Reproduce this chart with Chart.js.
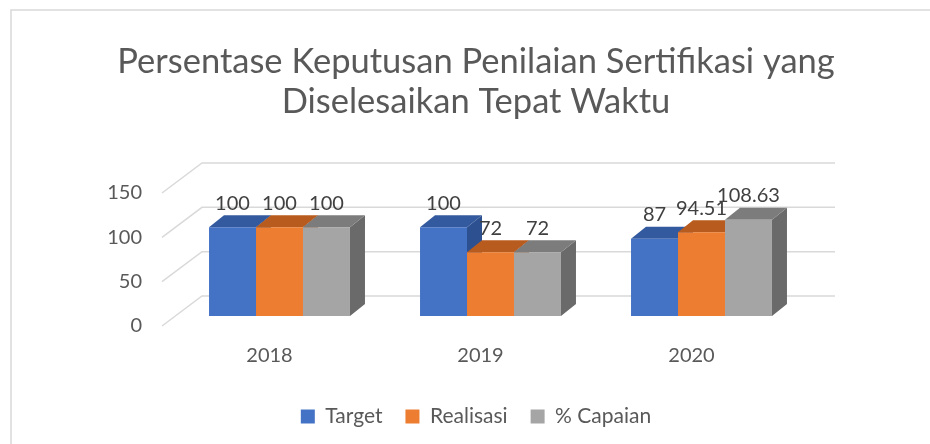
<!DOCTYPE html>
<html>
<head>
<meta charset="utf-8">
<script src="https://cdn.jsdelivr.net/npm/chart.js@4/dist/chart.umd.min.js"></script>
<style>
  html, body { margin: 0; padding: 0; background: #fff; }
  #wrap { position: relative; width: 930px; height: 444px; }
</style>
</head>
<body>
<div id="wrap"><canvas id="chart" width="930" height="444"></canvas></div>
<script>
const years = ['2018', '2019', '2020'];
const target = [100, 100, 87];
const realisasi = [100, 72, 94.51];
const capaian = [100, 72, 108.63];
const yTicks = [0, 50, 100, 150];

const TXT = '#595959';
const FONT = 'Lato, "Open Sans", sans-serif';
const front = ['#4472c4', '#ed7d31', '#a5a5a5'];
const topC = ['#335a9e', '#b85b1e', '#7c7c7c'];
const sideC = ['#2d5090', '#a2501a', '#6a6a6a'];
const DX = 15, DY = 12;

const frame = {
  id: 'frame',
  beforeDraw(chart) {
    const ctx = chart.ctx;
    ctx.save();
    ctx.strokeStyle = '#d9d9d9';
    ctx.lineWidth = 1.5;
    ctx.beginPath();
    ctx.moveTo(11, 444); ctx.lineTo(11, 10); ctx.lineTo(930, 10);
    ctx.stroke();
    ctx.restore();
  }
};

// back wall / floor gridlines + top and right faces of the bars
const box3d = {
  id: 'box3d',
  beforeDatasetsDraw(chart) {
    const ctx = chart.ctx, y = chart.scales.y, a = chart.chartArea;
    ctx.save();
    ctx.strokeStyle = '#d9d9d9';
    ctx.lineWidth = 1.5;
    yTicks.forEach(v => {
      const p = y.getPixelForValue(v);
      ctx.beginPath();
      ctx.moveTo(a.left - 12, p + 10);
      ctx.lineTo(a.left + 28, p - 20);
      ctx.lineTo(a.right + 28, p - 20);
      ctx.stroke();
    });
    for (let i = 0; i < years.length; i++) {
      chart.data.datasets.forEach((ds, d) => {
        const b = chart.getDatasetMeta(d).data[i];
        const l = b.x - b.width / 2, r = b.x + b.width / 2;
        ctx.fillStyle = sideC[d];
        ctx.beginPath();
        ctx.moveTo(r, b.y); ctx.lineTo(r + DX, b.y - DY);
        ctx.lineTo(r + DX, b.base - DY); ctx.lineTo(r, b.base);
        ctx.closePath(); ctx.fill();
        ctx.fillStyle = topC[d];
        ctx.beginPath();
        ctx.moveTo(l, b.y); ctx.lineTo(r, b.y);
        ctx.lineTo(r + DX, b.y - DY); ctx.lineTo(l + DX, b.y - DY);
        ctx.closePath(); ctx.fill();
      });
    }
    ctx.restore();
  },
  afterDatasetsDraw(chart) {
    const ctx = chart.ctx;
    ctx.save();
    ctx.font = '20px ' + FONT;
    ctx.fillStyle = '#404040';
    ctx.textAlign = 'center';
    ctx.textBaseline = 'middle';
    chart.data.datasets.forEach((ds, d) => {
      chart.getDatasetMeta(d).data.forEach((b, i) => {
        ctx.fillText(String(ds.data[i]), b.x, b.y - 24);
      });
    });
    ctx.restore();
  }
};

new Chart(document.getElementById('chart'), {
  type: 'bar',
  data: {
    labels: years,
    datasets: [
      { label: 'Target', data: target, backgroundColor: front[0] },
      { label: 'Realisasi', data: realisasi, backgroundColor: front[1] },
      { label: '% Capaian', data: capaian, backgroundColor: front[2] }
    ]
  },
  options: {
    responsive: false,
    animation: false,
    devicePixelRatio: 1,
    categoryPercentage: 0.668,
    barPercentage: 1,
    layout: { padding: { left: 100, right: 78, top: 0, bottom: 7 } },
    plugins: {
      title: {
        display: true,
        text: ['Persentase Keputusan Penilaian Sertifikasi yang', 'Diselesaikan Tepat Waktu'],
        color: TXT,
        font: { family: FONT, size: 34.5, weight: 'normal', lineHeight: 40 / 34.5 },
        padding: { top: 42, bottom: 61 }
      },
      legend: {
        position: 'bottom',
        labels: { color: TXT, font: { family: FONT, size: 21 }, boxWidth: 14, boxHeight: 14, padding: 23 }
      },
      tooltip: { enabled: false }
    },
    scales: {
      x: {
        grid: { display: false, drawTicks: false },
        border: { display: false },
        ticks: { color: TXT, font: { family: FONT, size: 20 }, padding: 28, labelOffset: -10 },
        afterFit(s) { s.height = 67; }
      },
      y: {
        min: 0, max: 150,
        grid: { display: false, drawTicks: false },
        border: { display: false },
        ticks: { stepSize: 50, color: TXT, font: { family: FONT, size: 20 }, padding: 32, labelOffset: 10 },
        afterFit(s) { s.width = 74; }
      },
      y2: {
        position: 'right',
        grid: { display: false, drawTicks: false },
        border: { display: false },
        ticks: { display: false },
        afterFit(s) { s.width = 45; }
      }
    }
  },
  plugins: [frame, box3d]
});
</script>
</body>
</html>
